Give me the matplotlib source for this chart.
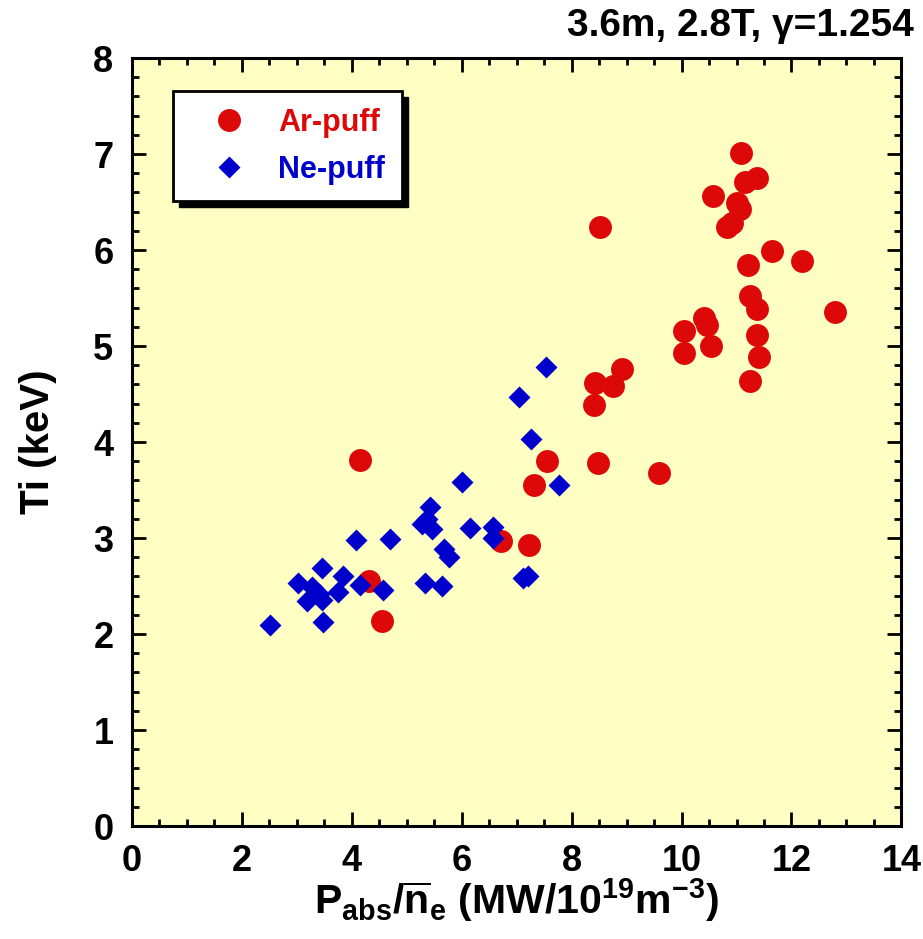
import matplotlib
matplotlib.use("Agg")
import matplotlib.pyplot as plt
from matplotlib.patches import Rectangle
from matplotlib.ticker import MultipleLocator

plt.rcParams["font.family"] = ["Liberation Sans", "DejaVu Sans"]
plt.rcParams["font.weight"] = "bold"
plt.rcParams["mathtext.default"] = "regular"

# Ar-puff shots: P_abs/n_e (MW/1e19 m^-3) vs Ti (keV)
ar_x = [11.08, 11.37, 11.15, 10.58, 11.00, 11.06, 10.91, 10.83, 8.52, 11.64,
        11.21, 12.19, 12.79, 11.25, 11.37, 11.37, 11.40, 11.25, 10.41, 10.47,
        10.05, 10.54, 10.05, 8.91, 8.43, 8.76, 8.41, 7.55, 7.32, 8.49,
        9.59, 4.15, 6.71, 7.23, 4.31, 4.55]
ar_y = [7.01, 6.75, 6.71, 6.56, 6.49, 6.43, 6.28, 6.24, 6.24, 5.99,
        5.84, 5.89, 5.35, 5.52, 5.39, 5.11, 4.89, 4.64, 5.29, 5.22,
        5.16, 5.00, 4.93, 4.76, 4.62, 4.58, 4.39, 3.80, 3.55, 3.78,
        3.68, 3.81, 2.97, 2.93, 2.55, 2.14]

# Ne-puff shots
ne_x = [7.54, 7.04, 7.26, 7.78, 6.00, 5.43, 5.28, 5.46, 5.37, 6.15,
        6.57, 6.58, 4.09, 4.70, 5.68, 5.78, 3.46, 3.03, 3.85, 3.28,
        3.40, 3.19, 3.46, 3.76, 4.15, 4.58, 5.34, 5.64, 7.11, 7.21,
        3.48, 2.52]
ne_y = [4.78, 4.47, 4.03, 3.55, 3.58, 3.32, 3.15, 3.09, 3.20, 3.10,
        3.11, 3.00, 2.98, 2.99, 2.89, 2.80, 2.69, 2.53, 2.60, 2.49,
        2.42, 2.34, 2.35, 2.44, 2.51, 2.46, 2.53, 2.50, 2.58, 2.60,
        2.13, 2.09]

RED = "#dd0808"
BLUE = "#0000cc"

fig = plt.figure(figsize=(9.23, 9.39), dpi=100)
ax = fig.add_axes([0.1425, 0.1203, 0.8342, 0.8179])
ax.set_facecolor("#ffffc4")

ax.plot(ar_x, ar_y, "o", ms=16.5, color=RED, mec="none", label="Ar-puff")
ax.plot(ne_x, ne_y, "D", ms=11.7, color=BLUE, mec="none", label="Ne-puff")

ax.set_xlim(0, 14)
ax.set_ylim(0, 8)
ax.xaxis.set_major_locator(MultipleLocator(2))
ax.xaxis.set_minor_locator(MultipleLocator(0.5))
ax.yaxis.set_major_locator(MultipleLocator(1))
ax.yaxis.set_minor_locator(MultipleLocator(0.2))
ax.tick_params(which="both", direction="in", top=True, right=True,
               width=2, labelsize=26, pad=13)
ax.tick_params(which="major", length=10)
ax.tick_params(which="minor", length=5)
for s in ax.spines.values():
    s.set_linewidth(2.2)

ax.set_xlabel(r"P$_{abs}$/$\overline{n}_e$ (MW/10$^{19}$m$^{-3}$)",
              fontsize=29.5, fontweight="bold", labelpad=-2)
ax.set_ylabel("Ti (keV)", fontsize=29, fontweight="bold", labelpad=26)
fig.text(0.99, 0.972, "3.6m, 2.8T, γ=1.254", ha="right", va="center",
         fontsize=28, fontweight="bold")

leg = ax.legend(loc="upper left", bbox_to_anchor=(0.054, 0.957),
                fontsize=22, frameon=True, fancybox=False, framealpha=1,
                edgecolor="black", borderpad=0.55, handletextpad=0.33,
                labelspacing=0.55, handlelength=2.55, borderaxespad=0)
leg.get_frame().set_linewidth(2)
leg.set_zorder(6)
for t, c in zip(leg.get_texts(), [RED, BLUE]):
    t.set_color(c)

# solid drop shadow just under the legend box
fig.canvas.draw()
bb = leg.get_window_extent().transformed(fig.transFigure.inverted())
dx, dy = 6 / fig.bbox.width, 6 / fig.bbox.height
ax.add_patch(Rectangle((bb.x0 + dx, bb.y0 - dy), bb.width, bb.height,
                       transform=fig.transFigure, color="black",
                       zorder=5, clip_on=False))

fig.savefig("out.png", dpi=100)
